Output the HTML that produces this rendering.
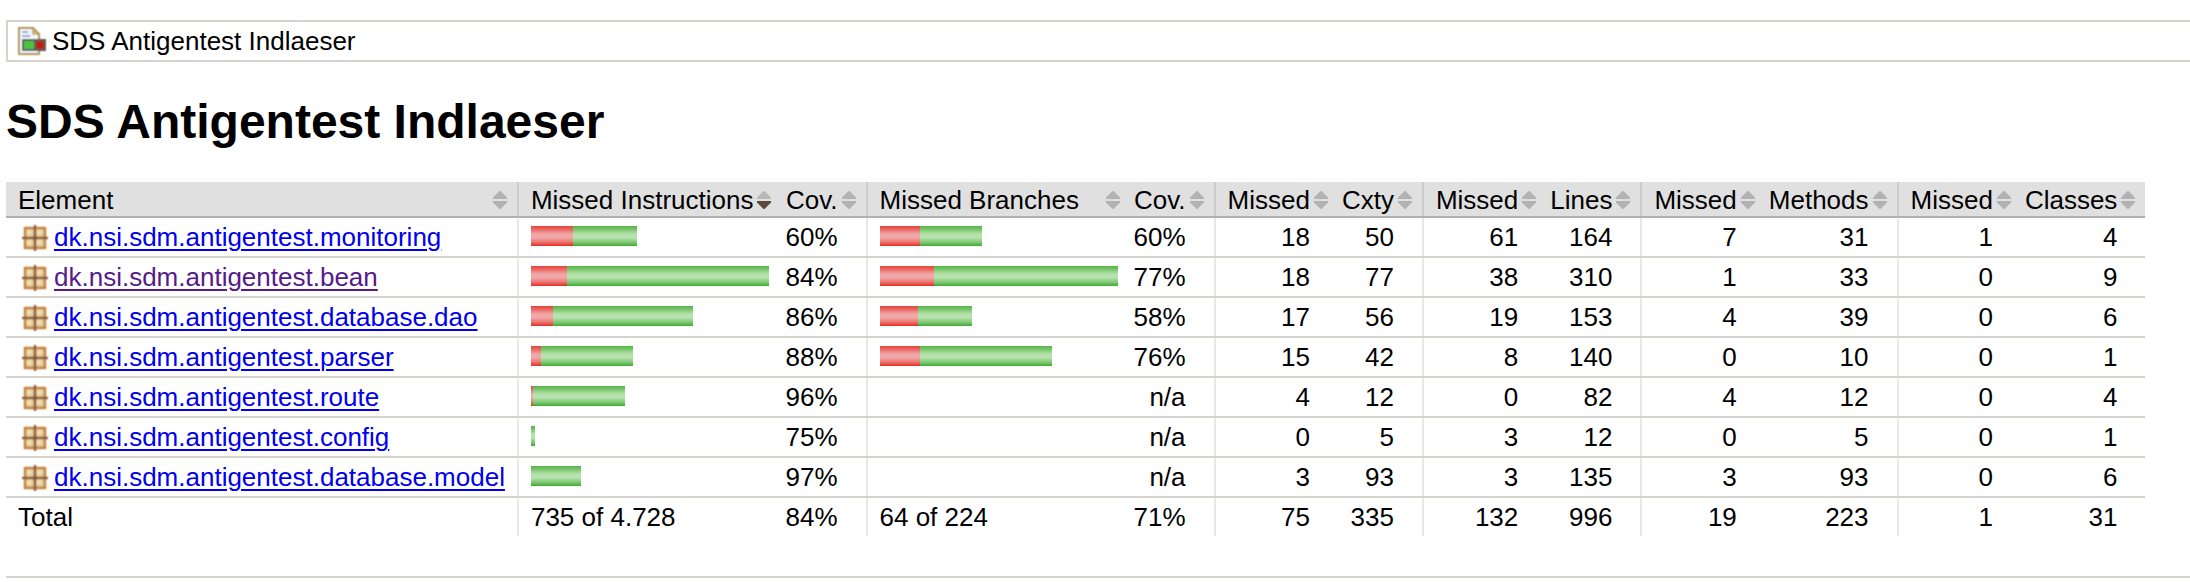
<!DOCTYPE html>
<html><head><meta charset="utf-8"><title>SDS Antigentest Indlaeser</title>
<style>
html,body{margin:0;padding:0;background:#fff;}
html{overflow:hidden;}
body{font-family:"Liberation Sans",sans-serif;font-size:26px;color:#000;width:2400px;padding:20px 0 0 6px;}
td{font-family:"Liberation Sans",sans-serif;font-size:26px;}
.breadcrumb{border:2px solid #d6d3ce;padding:4px 8px 4px 8px;height:30px;line-height:30px;}
.el_report{padding-left:36px;position:relative;display:inline-block;}
.el_report svg{position:absolute;left:0;top:-1px;}
h1{font-weight:bold;font-size:48px;margin:32px 0 33px 0;line-height:55px;}
table.coverage{empty-cells:show;border-collapse:collapse;}
table.coverage thead{background:#e0e0e0;}
table.coverage thead td{white-space:nowrap;padding:3px 28px 0 12px;border-bottom:2px solid #b0b0b0;position:relative;}
table.coverage thead td.bar{border-left:2px solid #ccc;}
table.coverage thead td.ctr1{text-align:right;border-left:2px solid #ccc;}
table.coverage thead td.ctr2{text-align:right;padding-left:4px;}
table.coverage tbody td{white-space:nowrap;padding:4px 12px;line-height:30px;height:30px;border-bottom:2px solid #d6d3ce;}
table.coverage tbody td.bar{border-left:2px solid #e8e8e8;}
table.coverage tbody td.ctr1{text-align:right;padding-right:28px;border-left:2px solid #e8e8e8;}
table.coverage tbody td.ctr2{text-align:right;padding-right:28px;padding-left:4px;}
table.coverage tfoot td{white-space:nowrap;padding:4px 12px;line-height:30px;height:30px;}
table.coverage tfoot td.bar{border-left:2px solid #e8e8e8;}
table.coverage tfoot td.ctr1{text-align:right;padding-right:28px;border-left:2px solid #e8e8e8;}
table.coverage tfoot td.ctr2{text-align:right;padding-right:28px;padding-left:4px;}
.s{position:absolute;right:10px;top:50%;margin-top:-8px;width:14px;height:18px;}
a{color:#0000ee;text-decoration:underline;text-underline-offset:3px;text-decoration-thickness:2px;}
a.v{color:#551a8b;}
.el_package{padding-left:36px;position:relative;}
.pk{position:absolute;left:0;top:50%;margin-top:-16px;}
.r,.g{display:inline-block;height:20px;vertical-align:baseline;}
.r{background:linear-gradient(#e6423a 0%,#eb706a 20%,#f0a6a6 40%,#f0a8a8 58%,#ec7670 80%,#e42c24 100%);}
.g{background:linear-gradient(#52b444 0%,#80ca72 20%,#b4e0aa 40%,#b8e2b0 58%,#82cb76 80%,#40a832 100%);}
.footer{margin-top:40px;border-top:2px solid #d6d3ce;padding-top:4px;font-size:21.33px;color:#a0a0a0;}
</style></head>
<body>
<div class="breadcrumb"><span class="el_report"><svg width="32" height="32" viewBox="0 0 32 32"><g filter="url(#bl)"><path d="M2 2H18L24 8V30H2Z" fill="#f2f5fc"/><path d="M3 3H17L23 9V29H3Z" fill="none" stroke="#b09550" stroke-width="2"/><path d="M17 3V9H23Z" fill="#d6be78" stroke="#b09550" stroke-width="1.2"/><rect x="6" y="6" width="6" height="2" fill="#9aaad2"/><rect x="6" y="10" width="8" height="2" fill="#9aaad2"/><rect x="6" y="14" width="24" height="12" fill="#5a5a5a"/><rect x="8" y="16" width="10" height="8" fill="#4cc43c"/><rect x="20" y="16" width="8" height="8" fill="#b82018"/></g></svg>SDS Antigentest Indlaeser</span></div>
<h1>SDS Antigentest Indlaeser</h1>
<table class="coverage" cellspacing="0">
<thead><tr>
<td>Element<svg class="s"><use href="#srt"/></svg></td>
<td class="bar">Missed Instructions<svg class="s"><use href="#dn"/></svg></td>
<td class="ctr2">Cov.<svg class="s"><use href="#srt"/></svg></td>
<td class="bar">Missed Branches<svg class="s"><use href="#srt"/></svg></td>
<td class="ctr2">Cov.<svg class="s"><use href="#srt"/></svg></td>
<td class="ctr1">Missed<svg class="s"><use href="#srt"/></svg></td>
<td class="ctr2">Cxty<svg class="s"><use href="#srt"/></svg></td>
<td class="ctr1">Missed<svg class="s"><use href="#srt"/></svg></td>
<td class="ctr2">Lines<svg class="s"><use href="#srt"/></svg></td>
<td class="ctr1">Missed<svg class="s"><use href="#srt"/></svg></td>
<td class="ctr2">Methods<svg class="s"><use href="#srt"/></svg></td>
<td class="ctr1">Missed<svg class="s"><use href="#srt"/></svg></td>
<td class="ctr2">Classes<svg class="s"><use href="#srt"/></svg></td>
</tr></thead>
<tfoot><tr><td>Total</td><td class="bar">735 of 4.728</td><td class="ctr2">84%</td><td class="bar">64 of 224</td><td class="ctr2">71%</td><td class="ctr1">75</td><td class="ctr2">335</td><td class="ctr1">132</td><td class="ctr2">996</td><td class="ctr1">19</td><td class="ctr2">223</td><td class="ctr1">1</td><td class="ctr2">31</td></tr></tfoot>
<tbody>
<tr><td><a class="el_package"><svg class="pk" width="32" height="32"><use href="#pkg"/></svg>dk.nsi.sdm.antigentest.monitoring</a></td><td class="bar"><span class="r" style="width:42px"></span><span class="g" style="width:64px"></span></td><td class="ctr2">60%</td><td class="bar"><span class="r" style="width:40px"></span><span class="g" style="width:62px"></span></td><td class="ctr2">60%</td><td class="ctr1">18</td><td class="ctr2">50</td><td class="ctr1">61</td><td class="ctr2">164</td><td class="ctr1">7</td><td class="ctr2">31</td><td class="ctr1">1</td><td class="ctr2">4</td></tr>
<tr><td><a class="el_package v"><svg class="pk" width="32" height="32"><use href="#pkg"/></svg>dk.nsi.sdm.antigentest.bean</a></td><td class="bar"><span class="r" style="width:36px"></span><span class="g" style="width:202px"></span></td><td class="ctr2">84%</td><td class="bar"><span class="r" style="width:54px"></span><span class="g" style="width:184px"></span></td><td class="ctr2">77%</td><td class="ctr1">18</td><td class="ctr2">77</td><td class="ctr1">38</td><td class="ctr2">310</td><td class="ctr1">1</td><td class="ctr2">33</td><td class="ctr1">0</td><td class="ctr2">9</td></tr>
<tr><td><a class="el_package"><svg class="pk" width="32" height="32"><use href="#pkg"/></svg>dk.nsi.sdm.antigentest.database.dao</a></td><td class="bar"><span class="r" style="width:22px"></span><span class="g" style="width:140px"></span></td><td class="ctr2">86%</td><td class="bar"><span class="r" style="width:38px"></span><span class="g" style="width:54px"></span></td><td class="ctr2">58%</td><td class="ctr1">17</td><td class="ctr2">56</td><td class="ctr1">19</td><td class="ctr2">153</td><td class="ctr1">4</td><td class="ctr2">39</td><td class="ctr1">0</td><td class="ctr2">6</td></tr>
<tr><td><a class="el_package"><svg class="pk" width="32" height="32"><use href="#pkg"/></svg>dk.nsi.sdm.antigentest.parser</a></td><td class="bar"><span class="r" style="width:10px"></span><span class="g" style="width:92px"></span></td><td class="ctr2">88%</td><td class="bar"><span class="r" style="width:40px"></span><span class="g" style="width:132px"></span></td><td class="ctr2">76%</td><td class="ctr1">15</td><td class="ctr2">42</td><td class="ctr1">8</td><td class="ctr2">140</td><td class="ctr1">0</td><td class="ctr2">10</td><td class="ctr1">0</td><td class="ctr2">1</td></tr>
<tr><td><a class="el_package"><svg class="pk" width="32" height="32"><use href="#pkg"/></svg>dk.nsi.sdm.antigentest.route</a></td><td class="bar"><span class="r" style="width:2px"></span><span class="g" style="width:92px"></span></td><td class="ctr2">96%</td><td class="bar"></td><td class="ctr2">n/a</td><td class="ctr1">4</td><td class="ctr2">12</td><td class="ctr1">0</td><td class="ctr2">82</td><td class="ctr1">4</td><td class="ctr2">12</td><td class="ctr1">0</td><td class="ctr2">4</td></tr>
<tr><td><a class="el_package"><svg class="pk" width="32" height="32"><use href="#pkg"/></svg>dk.nsi.sdm.antigentest.config</a></td><td class="bar"><span class="g" style="width:4px"></span></td><td class="ctr2">75%</td><td class="bar"></td><td class="ctr2">n/a</td><td class="ctr1">0</td><td class="ctr2">5</td><td class="ctr1">3</td><td class="ctr2">12</td><td class="ctr1">0</td><td class="ctr2">5</td><td class="ctr1">0</td><td class="ctr2">1</td></tr>
<tr><td><a class="el_package"><svg class="pk" width="32" height="32"><use href="#pkg"/></svg>dk.nsi.sdm.antigentest.database.model</a></td><td class="bar"><span class="g" style="width:50px"></span></td><td class="ctr2">97%</td><td class="bar"></td><td class="ctr2">n/a</td><td class="ctr1">3</td><td class="ctr2">93</td><td class="ctr1">3</td><td class="ctr2">135</td><td class="ctr1">3</td><td class="ctr2">93</td><td class="ctr1">0</td><td class="ctr2">6</td></tr>
</tbody>
</table>
<div class="footer">&nbsp;</div>
<svg width="0" height="0" style="position:absolute">
<defs>
<g id="srt"><path d="M6.5 0H7.5L14 6.5V8H0V6.5Z" fill="#b2b2b2"/><path d="M0 10H14V11.5L7.5 18H6.5L0 11.5Z" fill="#b2b2b2"/></g>
<g id="dn"><path d="M6.5 0H7.5L14 6.5V8H0V6.5Z" fill="#b8b8b8"/><path d="M0 10H14V11.5L7.5 18H6.5L0 11.5Z" fill="#5a4a3e"/></g>
<g id="pkg" filter="url(#bl2)"><rect x="7" y="7" width="20" height="20" fill="#dcc090"/><rect x="8" y="8" width="8" height="8" fill="url(#qg)"/><rect x="18" y="8" width="8" height="8" fill="url(#qg)"/><rect x="8" y="18" width="8" height="8" fill="url(#qg)"/><rect x="18" y="18" width="8" height="8" fill="url(#qg)"/><rect x="7" y="7" width="20" height="20" fill="none" stroke="#c4823c" stroke-width="2.4"/><rect x="15.8" y="4" width="2.4" height="26" fill="#8c5e40"/><rect x="4" y="15.8" width="26" height="2.4" fill="#8c5e40"/><rect x="15.5" y="15.5" width="3" height="3" fill="#74503a"/></g>
<radialGradient id="qg" cx="0.42" cy="0.42" r="0.7"><stop offset="0" stop-color="#f4e8b4"/><stop offset="0.55" stop-color="#e8d0a0"/><stop offset="1" stop-color="#d2b080"/></radialGradient>
<filter id="bl" x="-10%" y="-10%" width="120%" height="120%"><feConvolveMatrix order="3" kernelMatrix="1 2 1 2 4 2 1 2 1" divisor="16" edgeMode="none" preserveAlpha="false"/></filter>
<filter id="bl2" x="-10%" y="-10%" width="120%" height="120%"><feConvolveMatrix order="3" kernelMatrix="1 2 1 2 4 2 1 2 1" divisor="16" edgeMode="none" preserveAlpha="false"/></filter>
</defs>
</svg>
</body></html>
